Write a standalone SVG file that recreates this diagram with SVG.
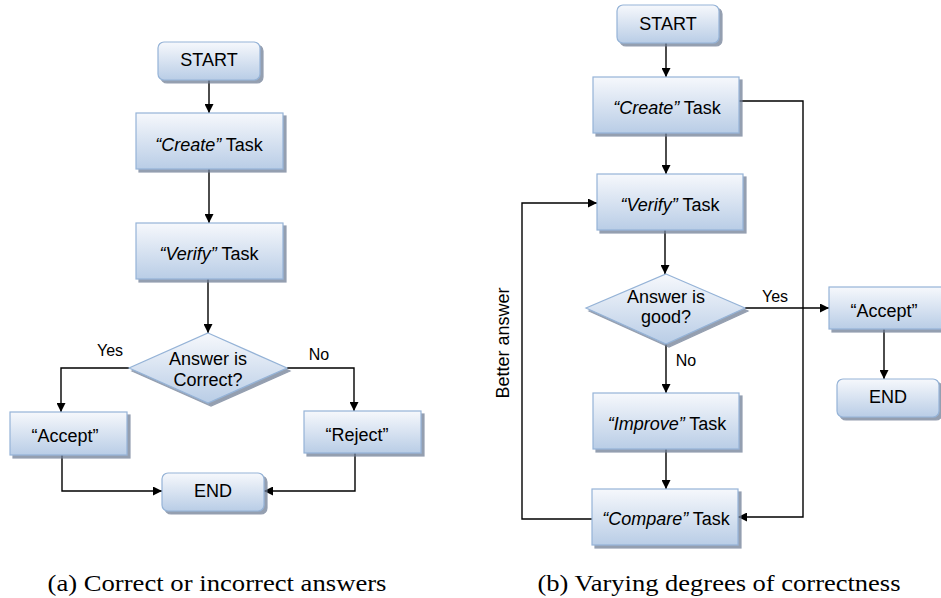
<svg xmlns="http://www.w3.org/2000/svg" width="941" height="598" viewBox="0 0 941 598">
<style>
.node{fill:url(#g);stroke:#95b3d7;stroke-width:1.2;filter:url(#sh)}
.t{font-family:"Liberation Sans",Arial,sans-serif;font-size:18px;fill:#000;text-anchor:middle}
.lbl{font-family:"Liberation Sans",Arial,sans-serif;font-size:16px;fill:#000;text-anchor:middle}
.i{font-style:italic}
.c{fill:none;stroke:#000;stroke-width:1.4}
.a{marker-end:url(#ar)}
.cap{font-family:"Liberation Serif","Times New Roman",serif;font-size:24px;fill:#000;text-anchor:middle}
</style>
<defs>
<linearGradient id="g" x1="0" y1="0" x2="0" y2="1">
<stop offset="0" stop-color="#f6f8fc"/>
<stop offset="1" stop-color="#b9cde6"/>
</linearGradient>
<filter id="sh" x="-10%" y="-10%" width="130%" height="140%">
<feDropShadow dx="3" dy="3" stdDeviation="0.6" flood-color="#6f7f96" flood-opacity="0.75"/>
</filter>
<marker id="ar" viewBox="0 0 10 10" refX="10" refY="5" markerUnits="userSpaceOnUse" markerWidth="9" markerHeight="9" orient="auto">
<path d="M0,0 L10,5 L0,10 z" fill="#000"/>
</marker>
</defs>
<rect width="941" height="598" fill="#fff"/>

<g id="connectors">
<path class="c a" d="M209,80 V113"/>
<path class="c a" d="M209,169 V223"/>
<path class="c a" d="M208,279 V333"/>
<path class="c a" d="M129,368 H61 V412"/>
<path class="c a" d="M287,368 H354 V411"/>
<path class="c a" d="M62,455 V491 H162"/>
<path class="c a" d="M355,453 V491 H264"/>
<path class="c a" d="M666,43 V77"/>
<path class="c a" d="M666,133 V174"/>
<path class="c a" d="M665,230 V274"/>
<path class="c a" d="M745,308 H829"/>
<path class="c a" d="M884,329 V379"/>
<path class="c a" d="M666,344 V393"/>
<path class="c a" d="M666,449 V489"/>
<path class="c a" d="M739,101 H803 V517 H738"/>
<path class="c a" d="M592,519 H522 V203 H597"/>
<text class="lbl" x="110" y="356">Yes</text>
<text class="lbl" x="319" y="360">No</text>
<text class="lbl" x="775" y="302">Yes</text>
<text class="lbl" x="686" y="366">No</text>
<text class="t" transform="translate(509,343) rotate(-90)">Better answer</text>
</g>

<g id="a-start"><rect class="node" x="158" y="42" width="102" height="38" rx="6"/><text class="t" x="209" y="66">START</text></g>
<g id="a-create"><rect class="node" x="136" y="113" width="147" height="56"/><text class="t" x="209" y="151"><tspan class="i">“Create”</tspan> Task</text></g>
<g id="a-verify"><rect class="node" x="136" y="223" width="147" height="56"/><text class="t" x="209" y="260"><tspan class="i">“Verify”</tspan> Task</text></g>
<g id="a-decision"><polygon class="node" points="208,333 287,368 208,403 129,368"/><text class="t" x="208" y="365">Answer is</text><text class="t" x="208" y="386">Correct?</text></g>
<g id="a-accept"><rect class="node" x="10" y="412" width="117" height="43"/><text class="t" x="65" y="442">“Accept”</text></g>
<g id="a-reject"><rect class="node" x="304" y="411" width="117" height="42"/><text class="t" x="357" y="441">“Reject”</text></g>
<g id="a-end"><rect class="node" x="162" y="473" width="102" height="38" rx="6"/><text class="t" x="213" y="497">END</text></g>

<g id="b-start"><rect class="node" x="617" y="5" width="102" height="38" rx="6"/><text class="t" x="668" y="30">START</text></g>
<g id="b-create"><rect class="node" x="593" y="77" width="146" height="56"/><text class="t" x="667" y="114"><tspan class="i">“Create”</tspan> Task</text></g>
<g id="b-verify"><rect class="node" x="597" y="174" width="146" height="56"/><text class="t" x="670" y="211"><tspan class="i">“Verify”</tspan> Task</text></g>
<g id="b-decision"><polygon class="node" points="666,274 745,308 666,344 586,308"/><text class="t" x="666" y="303">Answer is</text><text class="t" x="666" y="323">good?</text></g>
<g id="b-accept"><rect class="node" x="829" y="287" width="117" height="42"/><text class="t" x="884" y="317">“Accept”</text></g>
<g id="b-end"><rect class="node" x="837" y="379" width="102" height="38" rx="6"/><text class="t" x="888" y="403">END</text></g>
<g id="b-improve"><rect class="node" x="593" y="393" width="146" height="56"/><text class="t" x="667" y="430"><tspan class="i">“Improve”</tspan> Task</text></g>
<g id="b-compare"><rect class="node" x="592" y="489" width="146" height="56"/><text class="t" x="666" y="525"><tspan class="i">“Compare”</tspan> Task</text></g>

<text class="cap" x="217" y="591" textLength="339" lengthAdjust="spacingAndGlyphs">(a) Correct or incorrect answers</text>
<text class="cap" x="719" y="591" textLength="363" lengthAdjust="spacingAndGlyphs">(b) Varying degrees of correctness</text>
</svg>
